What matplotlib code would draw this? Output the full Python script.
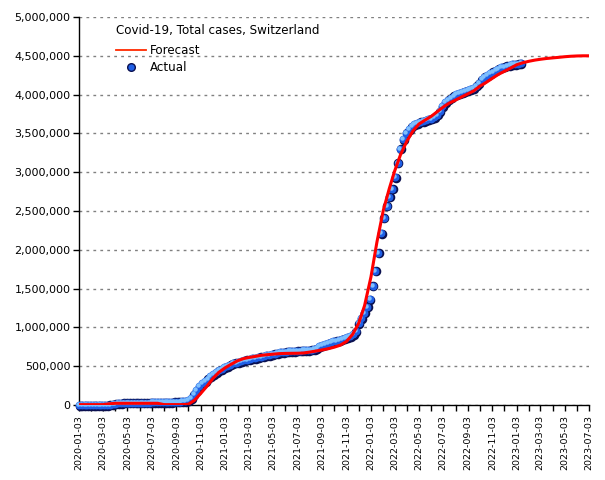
import matplotlib
matplotlib.use("Agg")
import matplotlib.pyplot as plt
import matplotlib.dates as mdates
from matplotlib.ticker import FuncFormatter, MultipleLocator
from matplotlib.lines import Line2D
from matplotlib.transforms import offset_copy
import pandas as pd
import numpy as np

title = "Covid-19, Total cases, Switzerland"
series_forecast = "Forecast"
series_actual = "Actual"

# Actual: weekly cumulative cases (thousands), starting 2020-01-03
actual_start = "2020-01-03"
actual_k = [
    0, 0, 0, 0, 0, 0, 0, 0, 0, 0.2,
    1.1, 5, 12, 19, 24, 27, 28.5, 29.5, 30, 30.5,
    30.7, 30.9, 31, 31.2, 31.5, 31.9, 32.5, 33.5, 34.5, 35.5,
    36.5, 37.5, 38.5, 40, 41.5, 43, 45, 48,
    52, 60, 90, 140, 190, 240, 280, 310, 340, 370,
    400, 425, 445, 465, 485, 505, 520, 535, 545, 555,
    565, 575, 585, 592, 600, 607, 615, 622, 630, 638,
    646, 655, 663, 670, 677, 683, 688, 692, 695, 697,
    699, 701, 703, 705, 708, 712, 722, 737, 755, 772,
    788, 800, 810, 820, 828, 836, 846, 858, 870, 890, 915, 955,
    1053, 1117, 1190, 1267, 1362, 1537, 1731, 1963, 2213, 2414,
    2568, 2684, 2787, 2934, 3122, 3303, 3428, 3509, 3553,
    3590, 3615, 3635, 3650, 3662, 3672, 3680, 3690, 3710, 3740,
    3790, 3850, 3900, 3935, 3960, 3985, 4005, 4020, 4035, 4045,
    4055, 4068, 4085, 4115, 4150, 4195, 4230, 4255, 4275, 4295,
    4315, 4335, 4350, 4362, 4372, 4380, 4388, 4395, 4400, 4404,
]

# Forecast: values (thousands) on the 3rd and 18th of each month, 2020-01-03 .. 2023-07-03
forecast_k = [
    5, 5, 5, 5, 5, 15, 22, 22, 22, 22, 22, 22, 22, 22, 5, 5, 5, 5, 10, 60, 150, 240, 340, 420,
    480, 525, 570, 598, 612, 625, 640, 648, 655, 662, 665, 666, 667, 670, 682, 695, 710, 725, 745, 770, 820, 910, 1050, 1280,
    1650, 2100, 2510, 2790, 3010, 3225, 3400, 3530, 3620, 3670, 3720, 3780, 3840, 3890, 3930, 3970, 4010, 4050, 4110, 4155, 4210, 4260, 4300, 4340,
    4385, 4410, 4430, 4445, 4455, 4465, 4473, 4480, 4488, 4494, 4498, 4500, 4500,
]

x_start = "2020-01-03"
x_end = "2023-07-03"

actual_dates = pd.date_range(actual_start, periods=len(actual_k), freq="7D")
fc_dates = []
for m in pd.date_range("2020-01-01", "2023-07-01", freq="MS"):
    fc_dates.append(m + pd.Timedelta(days=2))
    fc_dates.append(m + pd.Timedelta(days=17))
fc_dates = [d for d in fc_dates if d <= pd.Timestamp(x_end)]
assert len(fc_dates) == len(forecast_k), (len(fc_dates), len(forecast_k))

actual = np.array(actual_k) * 1000
forecast = np.array(forecast_k) * 1000

plt.rcParams["font.family"] = ["DejaVu Sans"]
fig = plt.figure(figsize=(6.05, 4.8), dpi=100)
ax = fig.add_axes([79 / 605, 1 - 405 / 480, 510 / 605, 388 / 480])

# grid
ax.set_ylim(0, 5_000_000)
ax.set_xlim(pd.Timestamp(x_start), pd.Timestamp(x_end))
ax.yaxis.set_major_locator(MultipleLocator(500_000))
ax.yaxis.grid(True, color="#808080", linestyle=(0, (2, 3)), linewidth=1)
ax.set_axisbelow(True)

# actual points: shaded spheres
dark = offset_copy(ax.transData, fig=fig, x=0.7, y=-0.7, units="dots")
light = offset_copy(ax.transData, fig=fig, x=-1.0, y=1.0, units="dots")
ax.plot(actual_dates, actual, linestyle="none", marker="o", ms=5.9,
        mfc="#0a1050", mec="#0a1050", transform=dark, zorder=3, clip_on=False)
ax.plot(actual_dates, actual, linestyle="none", marker="o", ms=4.6,
        mfc="#1f5fe6", mec="#1f5fe6", zorder=4, clip_on=False)
ax.plot(actual_dates, actual, linestyle="none", marker="o", ms=2.2,
        mfc="#7fc0ff", mec="#7fc0ff", transform=light, zorder=5, clip_on=False)

# forecast line
ax.plot(fc_dates, forecast, color="#ff0000", linewidth=2.2, zorder=6,
        solid_joinstyle="miter")

# axes styling
for s in ["top", "right"]:
    ax.spines[s].set_visible(False)
ax.spines["left"].set_linewidth(1)
ax.spines["bottom"].set_linewidth(1)
ax.yaxis.set_major_formatter(FuncFormatter(lambda v, p: f"{int(round(v)):,}"))
ax.tick_params(axis="y", direction="out", length=4, width=1, labelsize=8, pad=2)

ax.xaxis.set_major_locator(mdates.MonthLocator(bymonth=[1, 3, 5, 7, 9, 11], bymonthday=3))
ax.xaxis.set_minor_locator(mdates.MonthLocator(bymonthday=3))
ax.xaxis.set_major_formatter(mdates.DateFormatter("%Y-%m-%d"))
ax.tick_params(axis="x", which="both", direction="out", length=4, width=1)
ax.tick_params(axis="x", which="major", labelsize=6.8, labelrotation=90, pad=3)

# legend
h_fc = Line2D([], [], color="#ff2a00", linewidth=1.3)
h_ac = Line2D([], [], linestyle="none", marker="o", ms=5.5, mfc="#1f5fe6", mec="#0a1050", mew=1)
leg = ax.legend([h_fc, h_ac], [series_forecast, series_actual], title=title,
                loc="upper left", bbox_to_anchor=((116 - 79) / 510, (405 - 24) / 388),
                frameon=False, fontsize=8.6, title_fontsize=8.6, alignment="left",
                borderpad=0, handlelength=2.55, handletextpad=0.3, labelspacing=0.38,
                borderaxespad=0)
leg._legend_box.sep = 5

fig.savefig("out.png", dpi=100)
